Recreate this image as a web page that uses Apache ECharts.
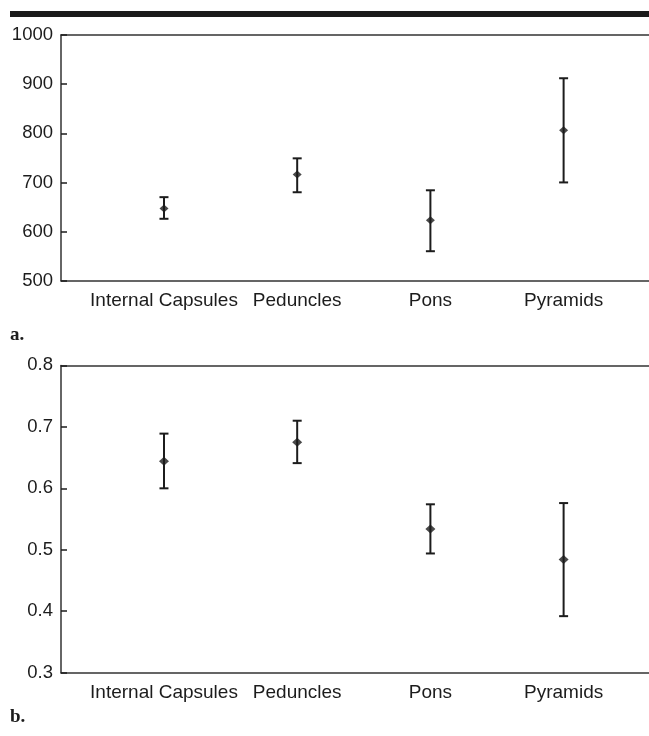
<!DOCTYPE html>
<html>
<head>
<meta charset="utf-8">
<script src="https://cdn.jsdelivr.net/npm/echarts@6/dist/echarts.min.js"></script>
<style>
html,body{margin:0;padding:0;background:#fff;}
#chart{width:649px;height:736px;}
</style>
</head>
<body>
<div id="chart"></div>
<script>
const categories = ['Internal Capsules', 'Peduncles', 'Pons', 'Pyramids'];
const categoryIndex = [0, 1, 2, 3];

const aMean = [647, 716, 623, 806];
const aLow  = [626, 680, 560, 700];
const aHigh = [670, 749, 684, 912];
const aTicks = [500, 600, 700, 800, 900, 1000];

const bMean = [0.644, 0.675, 0.534, 0.484];
const bLow  = [0.600, 0.641, 0.494, 0.392];
const bHigh = [0.689, 0.710, 0.574, 0.576];
const bTicks = [0.3, 0.4, 0.5, 0.6, 0.7, 0.8];

const panelLabels = ['a.', 'b.'];

const chart = echarts.init(document.getElementById('chart'));
const FONT = '"Liberation Sans", Arial, Helvetica, sans-serif';
const INK = '#1c1c1c';
const FRAME = { color: '#333', width: 1.5 };
const XMIN = -0.773, XMAX = 3.641;

function errorRender(params, api) {
  const x = api.value(0);
  const p1 = api.coord([x, api.value(1)]);
  const p2 = api.coord([x, api.value(2)]);
  const hw = 4.5;
  const st = { stroke: INK, lineWidth: 2 };
  return {
    type: 'group',
    children: [
      { type: 'line', shape: { x1: p1[0], y1: p1[1], x2: p2[0], y2: p2[1] }, style: st },
      { type: 'line', shape: { x1: p1[0] - hw, y1: p1[1], x2: p1[0] + hw, y2: p1[1] }, style: st },
      { type: 'line', shape: { x1: p2[0] - hw, y1: p2[1], x2: p2[0] + hw, y2: p2[1] }, style: st }
    ]
  };
}

function xAxisBottom(gi) {
  return {
    type: 'value', gridIndex: gi, position: 'bottom', min: XMIN, max: XMAX,
    axisLine: { show: true, onZero: false, lineStyle: FRAME },
    axisTick: { show: false }, splitLine: { show: false },
    axisLabel: {
      customValues: categoryIndex,
      formatter: v => categories[Math.round(v)] || '',
      color: INK, fontFamily: FONT, fontSize: 19, margin: 11
    }
  };
}
function xAxisTop(gi) {
  return {
    type: 'value', gridIndex: gi, position: 'top', min: XMIN, max: XMAX,
    axisLine: { show: true, onZero: false, lineStyle: FRAME },
    axisTick: { show: false }, splitLine: { show: false }, axisLabel: { show: false }
  };
}
function yAxisCfg(gi, min, max, interval, fmt) {
  return {
    type: 'value', gridIndex: gi, min: min, max: max, interval: interval,
    axisLine: { show: true, onZero: false, lineStyle: FRAME },
    axisTick: { show: true, inside: true, length: 6, lineStyle: { color: INK, width: 1.5 } },
    splitLine: { show: false },
    axisLabel: { color: INK, fontFamily: FONT, fontSize: 18.5, margin: 8, formatter: fmt }
  };
}

const option = {
  animation: false,
  backgroundColor: '#fff',
  grid: [
    { left: 61, top: 35, right: 0, height: 245.7, containLabel: false },
    { left: 61, top: 365.4, right: 0, height: 307.3, containLabel: false }
  ],
  xAxis: [xAxisBottom(0), xAxisTop(0), xAxisBottom(1), xAxisTop(1)],
  yAxis: [
    yAxisCfg(0, aTicks[0], aTicks[aTicks.length - 1], 100, v => String(Math.round(v))),
    yAxisCfg(1, bTicks[0], bTicks[bTicks.length - 1], 0.1, v => v.toFixed(1))
  ],
  series: [
    { type: 'custom', xAxisIndex: 0, yAxisIndex: 0, renderItem: errorRender,
      data: categoryIndex.map((i) => [i, aLow[i], aHigh[i]]), z: 3 },
    { type: 'scatter', xAxisIndex: 0, yAxisIndex: 0, symbol: 'diamond', symbolSize: [9, 8],
      itemStyle: { color: INK }, data: categoryIndex.map((i) => [i, aMean[i]]), z: 4 },
    { type: 'custom', xAxisIndex: 2, yAxisIndex: 1, renderItem: errorRender,
      data: categoryIndex.map((i) => [i, bLow[i], bHigh[i]]), z: 3 },
    { type: 'scatter', xAxisIndex: 2, yAxisIndex: 1, symbol: 'diamond', symbolSize: [10, 9],
      itemStyle: { color: INK }, data: categoryIndex.map((i) => [i, bMean[i]]), z: 4 }
  ],
  graphic: [
    { type: 'rect', shape: { x: 10, y: 11, width: 650, height: 6 }, style: { fill: '#1a1a1a' } },
    { type: 'text', style: { x: 10, y: 335, text: panelLabels[0], fill: INK,
      font: 'bold 19px "Liberation Serif", "Times New Roman", serif', textVerticalAlign: 'middle' } },
    { type: 'text', style: { x: 10, y: 717, text: panelLabels[1], fill: INK,
      font: 'bold 19px "Liberation Serif", "Times New Roman", serif', textVerticalAlign: 'middle' } }
  ]
};
chart.setOption(option);
</script>
</body>
</html>
